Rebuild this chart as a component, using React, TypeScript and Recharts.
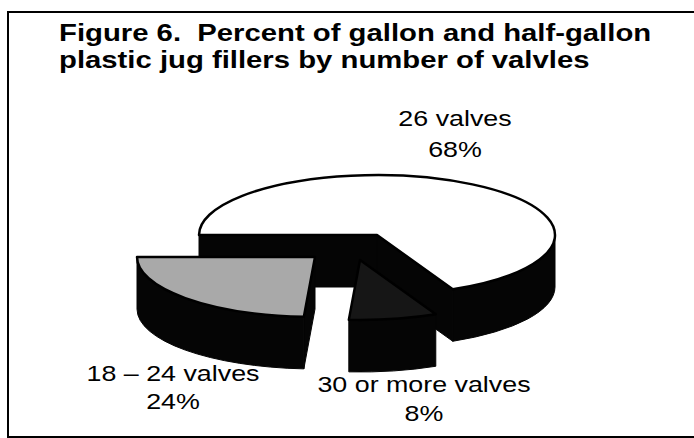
import React from "react"
import { PieChart, Pie } from "recharts"

const TITLE_LINES = [
  "Figure 6.  Percent of gallon and half-gallon",
  "plastic jug fillers by number of valvles",
]

const categories = ["26 valves", "30 or more valves", "18 – 24 valves"]
const percents = [68, 8, 24]

const data = categories.map((name, i) => ({ name, value: percents[i] }))

// old Excel style exploded 3D pie: top colour and how far each slice is pulled out
const SLICE_STYLE: Record<string, { top: string; explode: [number, number] }> = {
  "26 valves": { top: "#ffffff", explode: [0, 0] },
  "30 or more valves": { top: "#161616", explode: [-17, 25] },
  "18 – 24 valves": { top: "#a9a9a9", explode: [-62, 22] },
}

const LABEL_POS: Record<string, { x: number; y: number; gap: number }> = {
  "26 valves": { x: 455, y: 126, gap: 31 },
  "30 or more valves": { x: 424, y: 392, gap: 29 },
  "18 – 24 valves": { x: 173, y: 381, gap: 28 },
}

const FONT = '"Liberation Sans", Arial, Helvetica, sans-serif'
const TILT = 0.337
const DEPTH = 52
const STRETCH = 1.22

const rad = (a: number) => (a * Math.PI) / 180
const p = (q: number[]) => `${q[0].toFixed(2)},${q[1].toFixed(2)}`

const Slice3D = (props: any) => {
  const { cx, cy, outerRadius, startAngle, endAngle } = props
  const name = props.name ?? props.payload?.name
  const st = SLICE_STYLE[name] ?? { top: "#fff", explode: [0, 0] }
  const ox = cx + st.explode[0]
  const oy = cy + st.explode[1]
  const rx = outerRadius
  const ry = outerRadius * TILT
  const at = (a: number, d = 0) => [ox + rx * Math.cos(rad(a)), oy - ry * Math.sin(rad(a)) + d]
  const a0 = Math.min(startAngle, endAngle)
  const a1 = Math.max(startAngle, endAngle)

  // cut faces that look towards the viewer
  const face = (a: number) =>
    `M${ox},${oy} L${p(at(a))} L${p(at(a, DEPTH))} L${ox},${oy + DEPTH} Z`
  const faces: string[] = []
  if (Math.cos(rad(a1)) < 0) faces.push(face(a1))
  if (Math.cos(rad(a0)) > 0) faces.push(face(a0))

  // outer rim, only the front half shows
  const w0 = Math.max(a0, -180)
  const w1 = Math.min(a1, 0)
  let wall: string | null = null
  if (w1 > w0) {
    const lg = w1 - w0 > 180 ? 1 : 0
    wall = `M${p(at(w1))} A${rx},${ry} 0 ${lg} 1 ${p(at(w0))} L${p(at(w0, DEPTH))} A${rx},${ry} 0 ${lg} 0 ${p(at(w1, DEPTH))} Z`
  }

  const lg = a1 - a0 > 180 ? 1 : 0
  const top = `M${ox},${oy} L${p(at(a1))} A${rx},${ry} 0 ${lg} 1 ${p(at(a0))} Z`

  return (
    <g>
      {faces.map((d, i) => (
        <path key={i} d={d} fill="#050505" stroke="#050505" strokeWidth={1} />
      ))}
      {wall && <path d={wall} fill="#050505" stroke="#050505" strokeWidth={1} />}
      <path d={top} fill={st.top} stroke="#000" strokeWidth={2.5} strokeLinejoin="round" />
    </g>
  )
}

const renderLabel = (props: any) => {
  const name = props.name ?? props.payload?.name
  const value = props.value ?? props.payload?.value
  const pos = LABEL_POS[name]
  if (!pos) return null
  return (
    <g transform={`translate(${pos.x},${pos.y}) scale(${STRETCH},1)`}>
      <text textAnchor="middle" fontSize={22} fontFamily={FONT} fill="#000">
        <tspan x={0} y={0}>{name}</tspan>
        <tspan x={0} y={pos.gap}>{`${value}%`}</tspan>
      </text>
    </g>
  )
}

const App: React.FC = () => {
  return (
    <div
      style={{
        position: "absolute",
        left: 0,
        top: 0,
        width: 694,
        height: 438,
        overflow: "hidden",
        background: "#fff",
      }}
    >
      <div
        style={{
          position: "absolute",
          left: 7,
          top: 11,
          width: 800,
          height: 427,
          boxSizing: "border-box",
          border: "2px solid #000",
        }}
      />
      <div
        style={{
          position: "absolute",
          left: 59,
          top: 19,
          fontFamily: FONT,
          fontWeight: 700,
          fontSize: 24,
          lineHeight: "27px",
          whiteSpace: "pre",
          color: "#000",
          transform: `scaleX(${STRETCH})`,
          transformOrigin: "left top",
        }}
      >
        {TITLE_LINES.join("\n")}
      </div>
      <div style={{ position: "absolute", left: 0, top: 0 }}>
        <PieChart width={694} height={438} margin={{ top: 0, right: 0, bottom: 0, left: 0 }}>
          <Pie
            data={data}
            dataKey="value"
            nameKey="name"
            cx={377}
            cy={235}
            outerRadius={178}
            startAngle={180}
            endAngle={-180}
            stroke="none"
            labelLine={false}
            label={renderLabel}
            shape={Slice3D}
            activeShape={Slice3D}
            inactiveShape={Slice3D}
            isAnimationActive={false}
          />
        </PieChart>
      </div>
    </div>
  )
}

export default App
